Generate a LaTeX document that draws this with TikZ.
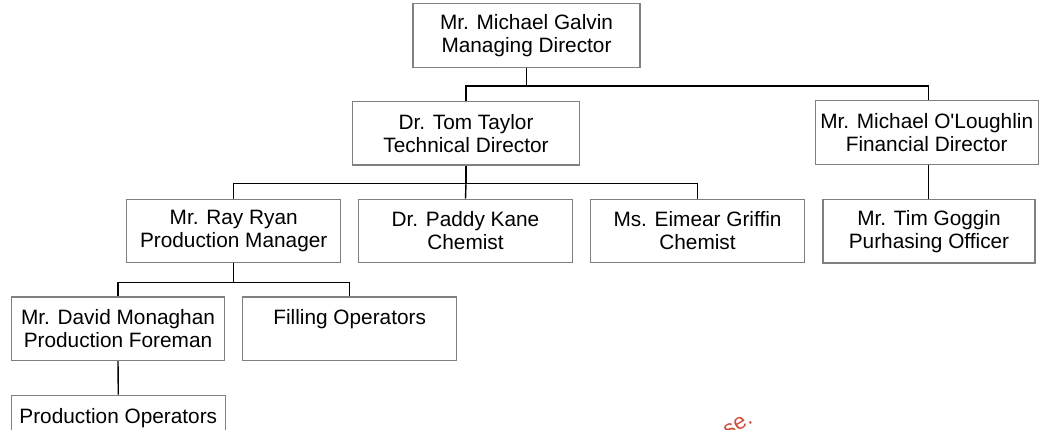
\documentclass[tikz,border=0pt]{standalone}
\usepackage{fontspec}
\setmainfont{Liberation Sans}
\usetikzlibrary{positioning,calc}
\definecolor{boxgray}{rgb}{0.50,0.50,0.50}
\definecolor{markred}{rgb}{0.82,0.30,0.22}

\begin{document}
\begin{tikzpicture}
[x=1pt, y=-1pt,
 every node/.style={rectangle, align=center, inner sep=0pt, font=\fontsize{20.8}{23}\selectfont},
 person/.style={draw=boxgray, line width=1.2pt, minimum width=214pt, minimum height=63.5pt},
 wide/.style={person, minimum width=227pt},
 link/.style={draw=black, line width=1.4pt}]
\useasboundingbox (0,0) rectangle (1039,429);
% top level
\node[wide] (galvin) at (526.5,35.5) {Mr. Michael Galvin\\Managing Director};
\node[wide] (taylor) at (466,133.3) {Dr. Tom Taylor\\Technical Director};
\node[person, minimum width=223pt] (oloughlin) at (926.7,132.5) {Mr. Michael O\textquotesingle Loughlin\\Financial Director};
% third row
\node[person] (ryan) at (233.7,231) {Mr. Ray Ryan\\Production Manager};
\node[person] (kane) at (465.5,231) {Dr. Paddy Kane\\Chemist};
\node[person] (griffin) at (697.5,231) {Ms. Eimear Griffin\\Chemist};
\node[person, minimum width=212pt] (goggin) at (929,231.3) {Mr. Tim Goggin\\Purhasing Officer};
% fourth row
\node[person, minimum width=213pt] (monaghan) at (118,328.7) {Mr. David Monaghan\\Production Foreman};
\node[person] (filling) at (349.7,328.7) {Filling Operators\\~};
\node[person] (prodops) at (118.3,427) {Production Operators\\~};
% connectors
\coordinate (busA) at ($(galvin.south)+(0,18)$);
\coordinate (busB) at ($(taylor.south)+(0,17.7)$);
\coordinate (busC) at ($(ryan.south)+(0,19)$);
\draw[link] (galvin.south) -- (busA) -| (taylor.north);
\draw[link] (busA) -| ([xshift=2pt]oloughlin.north);
\draw[link] ([xshift=2pt]oloughlin.south) -- ([xshift=2pt]oloughlin.south |- goggin.north);
\draw[link] (taylor.south) -- (busB) -| (ryan.north);
\draw[link] (busB) -- (kane.north);
\draw[link] (busB) -| (griffin.north);
\draw[link] (ryan.south) -- (busC) -| (monaghan.north);
\draw[link] (busC) -| (filling.north);
\draw[link] (monaghan.south) -- (prodops.north);
% stray mark
\node[text=markred, font=\fontsize{22}{22}\selectfont, rotate=30] (mark) at (738,425) {se.};
\end{tikzpicture}
\end{document}
